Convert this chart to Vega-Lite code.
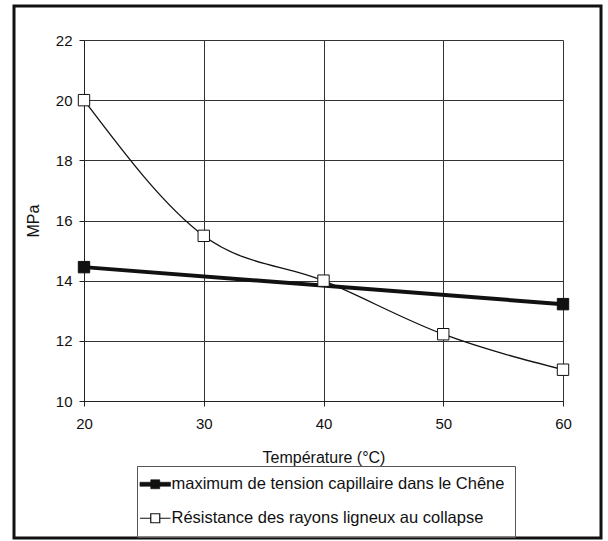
{
  "$schema": "https://vega.github.io/schema/vega-lite/v6.json",
  "width": 587,
  "height": 532,
  "autosize": "none",
  "padding": {"left": 14, "top": 6, "right": 7, "bottom": 3},
  "background": "white",
  "config": {
    "view": {"stroke": "#111", "strokeWidth": 3, "fill": "white"},
    "font": "Liberation Sans",
    "axis": {
      "labelFont": "Liberation Sans",
      "titleFont": "Liberation Sans",
      "labelFontSize": 15,
      "titleFontSize": 16,
      "titleFontWeight": "normal",
      "labelColor": "#111",
      "titleColor": "#111",
      "domainColor": "#222",
      "tickColor": "#222",
      "tickSize": 5,
      "gridColor": "#333",
      "gridWidth": 1,
      "labelFlush": false
    }
  },
  "data": {
    "values": [
      {"T": 20, "v": 14.45, "s": "maximum de tension capillaire dans le Chêne"},
      {"T": 60, "v": 13.22, "s": "maximum de tension capillaire dans le Chêne"},
      {"T": 20, "v": 20.0, "s": "Résistance des rayons ligneux au collapse"},
      {"T": 30, "v": 15.49, "s": "Résistance des rayons ligneux au collapse"},
      {"T": 40, "v": 14.0, "s": "Résistance des rayons ligneux au collapse"},
      {"T": 50, "v": 12.22, "s": "Résistance des rayons ligneux au collapse"},
      {"T": 60, "v": 11.04, "s": "Résistance des rayons ligneux au collapse"}
    ]
  },
  "encoding": {
    "x": {
      "field": "T",
      "type": "quantitative",
      "scale": {"domain": [20, 60], "range": [70, 549], "nice": false, "zero": false}
    },
    "y": {
      "field": "v",
      "type": "quantitative",
      "scale": {"domain": [10, 22], "range": [395, 34], "nice": false, "zero": false},
      "axis": {
        "title": "MPa",
        "values": [10, 12, 14, 16, 18, 20, 22],
        "offset": -70,
        "labelPadding": 7,
        "titlePadding": 14,
        "grid": true
      }
    }
  },
  "layer": [
    {
      "transform": [{"filter": "datum.s == 'maximum de tension capillaire dans le Chêne'"}],
      "mark": {"type": "line", "color": "#111", "strokeWidth": 4},
      "encoding": {
        "x": {
          "field": "T",
          "type": "quantitative",
          "axis": {
            "orient": "top",
            "values": [20, 30, 40, 50, 60],
            "grid": true,
            "labels": false,
            "ticks": false,
            "domain": false,
            "title": null
          }
        }
      }
    },
    {
      "transform": [{"filter": "datum.s == 'Résistance des rayons ligneux au collapse'"}],
      "mark": {"type": "line", "interpolate": "monotone", "color": "#111", "strokeWidth": 1.3},
      "encoding": {
        "x": {
          "field": "T",
          "type": "quantitative",
          "axis": {
            "orient": "bottom",
            "title": "Température (°C)",
            "values": [20, 30, 40, 50, 60],
            "offset": -137,
            "labelPadding": 10,
            "titlePadding": 18,
            "grid": false
          }
        }
      }
    },
    {
      "mark": {"type": "point", "shape": "square", "filled": true, "size": 130, "stroke": "#111", "strokeWidth": 1, "opacity": 1},
      "encoding": {
        "x": {"field": "T", "type": "quantitative", "axis": null},
        "fill": {
          "field": "s",
          "type": "nominal",
          "scale": {"domain": ["maximum de tension capillaire dans le Chêne", "Résistance des rayons ligneux au collapse"], "range": ["#111", "white"]},
          "legend": {
            "title": null,
            "orient": "none",
            "legendX": 123,
            "legendY": 460,
            "direction": "vertical",
            "strokeColor": "#555",
            "padding": 10,
            "labelFont": "Liberation Sans",
            "labelFontSize": 16.5,
            "labelColor": "#111",
            "labelLimit": 500,
            "labelOffset": 8,
            "rowPadding": 17,
            "symbolSize": 81,
            "symbolType": "M-3.4,0H-1M1,0H3.4M-1,-1H1V1H-1Z",
            "symbolStrokeColor": "#111",
            "symbolStrokeWidth": 1.2,
            "symbolOpacity": 1,
            "encode": {
              "symbols": {
                "update": {
                  "shape": {"signal": "datum.value == 'maximum de tension capillaire dans le Chêne' ? 'M-3.4,-0.45H3.4V0.45H-3.4ZM-1,-1H1V1H-1Z' : 'M-3.4,0H-1M1,0H3.4M-1,-1H1V1H-1Z'"},
                  "strokeWidth": {"signal": "datum.value == 'maximum de tension capillaire dans le Chêne' ? 0.6 : 1.2"}
                }
              }
            }
          }
        }
      }
    }
  ],
  "resolve": {"axis": {"x": "independent"}}
}
